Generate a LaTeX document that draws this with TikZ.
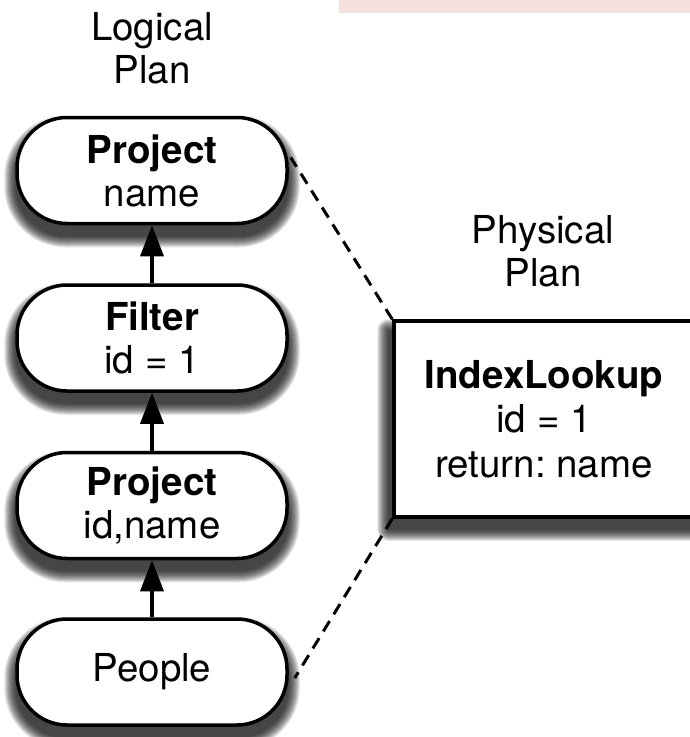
\documentclass[tikz,border=0pt]{standalone}
\usepackage{fontspec}
\setmainfont{TeX Gyre Heros}
\usetikzlibrary{arrows.meta,calc}
\definecolor{bandpink}{RGB}{245,225,224}
\frenchspacing
\pgfdeclarelayer{shade}
\pgfsetlayers{shade,main}
\tikzset{
  opnode/.style={draw=black, line width=3.5pt, fill=white,
    rectangle, rounded corners=50pt, minimum width=270pt, minimum height=106pt,
    align=center, inner sep=0pt,
    font=\fontsize{38.5}{43}\selectfont},
  physbox/.style={draw=black, line width=3.5pt, fill=white,
    rectangle, minimum width=300pt, minimum height=196pt,
    align=center, inner sep=0pt,
    font=\fontsize{38.5}{44.5}\selectfont},
  planlabel/.style={align=center, inner sep=0pt, font=\fontsize{38.5}{43}\selectfont},
  flow/.style={line width=3.5pt, -{Triangle[width=23pt,length=31pt]}},
  mapping/.style={line width=3pt, dash pattern=on 12pt off 8pt},
  shadelayer/.style={fill=black, opacity=0.1},
}
% soft drop shadow: stacked translucent copies of a node's outline,
% each one grown a little and pushed down (args: node, corner radius, x offset)
\newcommand\dropshade[3]{%
  \foreach \s in {0,1,...,11} {
    \pgfmathsetmacro\rr{#2+\s+0.01}
    \fill[shadelayer, rounded corners=\rr pt]
      ($(#1.north west)+(-\s+#3,11-\s)$) rectangle ($(#1.south east)+(\s+#3,11+\s)$);
  }}
\begin{document}
\begin{tikzpicture}[x=1pt,y=-1pt]
  \useasboundingbox (0,0) rectangle (690,737);
  % faint band along the top edge
  \fill[bandpink] (339,0) rectangle (690,13);

  % headings
  \node[planlabel] (loglabel) at (152,48) {Logical\\Plan};
  \node[planlabel] (physlabel) at (543,251) {Physical\\Plan};

  % logical operators
  \node[opnode] (proj1) at (152,170.5) {\textbf{Project}\\name};
  \node[opnode] (filter) at (152,338) {\textbf{Filter}\\id = 1};
  \node[opnode] (proj2) at (152,505.5) {\textbf{Project}\\id,name};
  \node[opnode] (people) at (152,672) {People};

  % physical operator
  \node[physbox] (lookup) at (544,419) {\textbf{IndexLookup}\\id = 1\\return: name};

  % shadows behind the boxes
  \begin{pgfonlayer}{shade}
    \dropshade{proj1}{50}{0}
    \dropshade{filter}{50}{0}
    \dropshade{proj2}{50}{0}
    \dropshade{people}{50}{0}
    \dropshade{lookup}{0}{-4}
  \end{pgfonlayer}

  % data flow
  \draw[flow] (filter.north) -- (proj1.south);
  \draw[flow] (proj2.north) -- (filter.south);
  \draw[flow] (people.north) -- (proj2.south);

  % correspondence between the plans
  \draw[mapping] (lookup.north west) -- ([yshift=13pt,xshift=2pt]proj1.east);
  \draw[mapping] (lookup.south west) -- ([yshift=-6pt,xshift=6pt]people.east);
\end{tikzpicture}
\end{document}
